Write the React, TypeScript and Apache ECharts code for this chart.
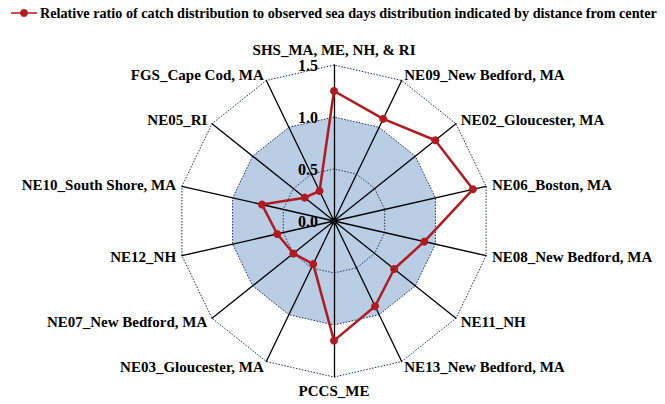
import React, { useEffect, useRef } from "react";
import * as echarts from "echarts";

// Indicators in counter-clockwise order starting at the top (ECharts radar direction)
const indicatorNames = [
  "SHS_MA, ME, NH, & RI",
  "FGS_Cape Cod, MA",
  "NE05_RI",
  "NE10_South Shore, MA",
  "NE12_NH",
  "NE07_New Bedford, MA",
  "NE03_Gloucester, MA",
  "PCCS_ME",
  "NE13_New Bedford, MA",
  "NE11_NH",
  "NE08_New Bedford, MA",
  "NE06_Boston, MA",
  "NE02_Gloucester, MA",
  "NE09_New Bedford, MA",
];

const ratioValues = [1.25, 0.32, 0.36, 0.71, 0.56, 0.5, 0.46, 1.15, 0.91, 0.74, 0.89, 1.37, 1.245, 1.09];

const axisMax = 1.5;
const seriesName =
  "Relative ratio of catch distribution to observed sea days distribution indicated by distance from center";

export default function App() {
  const ref = useRef<HTMLDivElement>(null);
  useEffect(() => {
    if (!ref.current) return;
    const chart = echarts.init(ref.current, undefined, { renderer: "svg" });
    const font = "'Liberation Serif', 'Times New Roman', serif";
    chart.setOption({
      animation: false,
      textStyle: { fontFamily: font },
      legend: {
        left: 6,
        top: 1,
        itemWidth: 26,
        itemHeight: 10,
        itemGap: 4,
        icon: "path://M0,4.2 L26,4.2 L26,5.8 L0,5.8 Z M13,1 A4,4 0 1,1 12.99,1 Z",
        textStyle: { fontFamily: font, fontWeight: "bold", fontSize: 14.2, color: "#000", padding: [0, 0, 0, -2] },
        data: [seriesName],
      },
      radar: {
        center: [334, 221],
        radius: 156,
        startAngle: 90,
        shape: "polygon",
        splitNumber: 3,
        nameGap: 6,
        axisName: { color: "#000", fontFamily: font, fontWeight: "bold", fontSize: 15 },
        indicator: indicatorNames.map((n, i) =>
          i === 0
            ? {
                name: n,
                min: 0,
                max: axisMax,
                axisLabel: {
                  show: true,
                  color: "#000",
                  fontFamily: font,
                  fontWeight: "bold",
                  fontSize: 16,
                  margin: 16,
                  formatter: (v: number) => v.toFixed(1),
                },
              }
            : { name: n, min: 0, max: axisMax }
        ),
        axisLine: { lineStyle: { color: "#000", width: 1.3 } },
        axisLabel: { show: false },
        axisTick: { show: false },
        splitLine: { lineStyle: { color: "#1e2d55", type: [1.5, 1.5], width: 1 } },
        splitArea: {
          show: true,
          areaStyle: { color: ["#b9cde5", "#b9cde5", "rgba(0,0,0,0)"], opacity: 1 },
        },
      },
      graphic: [
        { type: "circle", shape: { cx: 334, cy: 221, r: 3.5 }, style: { fill: "#000" }, z: 10 },
      ],
      series: [
        {
          type: "radar",
          name: seriesName,
          symbol: "circle",
          symbolSize: 8,
          itemStyle: { color: "#b11a20" },
          lineStyle: { color: "#b11a20", width: 2.5 },
          data: [{ value: ratioValues, name: seriesName }],
        },
      ],
    });
    return () => chart.dispose();
  }, []);
  return (
    <div
      ref={ref}
      style={{ position: "absolute", left: 0, top: 0, width: 665, height: 404, background: "#fff" }}
    />
  );
}
